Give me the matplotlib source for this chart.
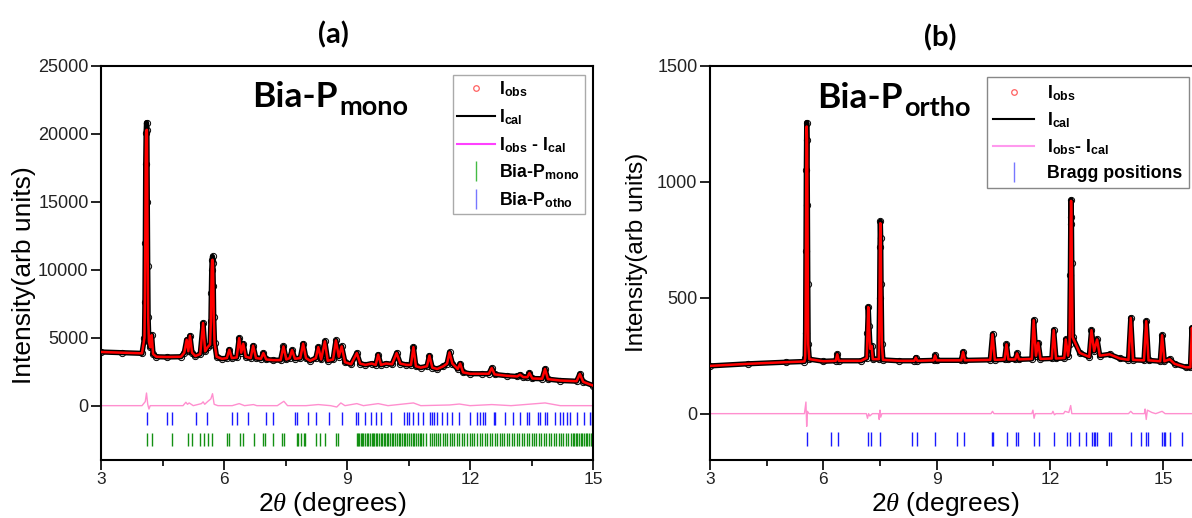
import numpy as np
import matplotlib
matplotlib.use("Agg")
import matplotlib.pyplot as plt
from matplotlib.lines import Line2D
from matplotlib.ticker import MultipleLocator, FixedLocator

plt.rcParams["font.family"] = "Liberation Sans"
plt.rcParams["mathtext.fontset"] = "custom"
plt.rcParams["mathtext.rm"] = "Liberation Sans"
plt.rcParams["mathtext.it"] = "Liberation Serif:italic"
plt.rcParams["mathtext.bf"] = "Liberation Sans:bold"

# ---------------- panel (a) : Bia-P mono ----------------
tt_a = [3.00, 3.50, 4.00, 4.06, 4.07, 4.08, 4.09, 4.10, 4.11, 4.12, 4.13, 4.14, 4.15,
        4.17, 4.20, 4.235, 4.27, 4.35, 4.60, 4.95, 5.03, 5.09, 5.13, 5.17, 5.22, 5.30,
        5.42, 5.49, 5.54, 5.60, 5.66, 5.68, 5.69, 5.70, 5.71, 5.72, 5.73, 5.74, 5.75,
        5.77, 5.82, 5.95, 6.07, 6.13, 6.19, 6.31, 6.37, 6.42, 6.47, 6.53, 6.65, 6.71,
        6.78, 6.90, 6.96, 7.03, 7.20, 7.38, 7.45, 7.52, 7.60, 7.66, 7.73, 7.86, 7.93,
        8.00, 8.10, 8.24, 8.30, 8.37, 8.46, 8.53, 8.66, 8.73, 8.80, 8.87, 8.95, 9.10,
        9.24, 9.32, 9.45, 9.60, 9.70, 9.76, 9.83, 9.95, 10.10, 10.21, 10.30, 10.45,
        10.56, 10.62, 10.68, 10.80, 10.95, 11.01, 11.08, 11.20, 11.35, 11.44, 11.50,
        11.57, 11.70, 11.76, 11.83, 12.00, 12.30, 12.46, 12.53, 12.60, 12.90, 13.15,
        13.22, 13.30, 13.40, 13.45, 13.52, 13.76, 13.83, 13.90, 14.20, 14.60, 14.68,
        14.76, 15.00]
iobs_a = [3950, 3900, 3850, 5000, 7600, 12000, 17800, 20100, 20830, 20300, 15000, 10300, 6500,
          4700, 4300, 5200, 3800, 3600, 3580, 3600, 3900, 4850, 4000, 5150, 3900, 3650,
          3800, 6080, 4000, 4300, 4500, 6200, 8300, 10000, 10700, 10980, 10500, 8800, 6500,
          4600, 3600, 3450, 3500, 4120, 3500, 3550, 4970, 3900, 4560, 3600, 3500, 4410,
          3500, 3450, 3870, 3400, 3350, 3350, 4360, 3400, 3500, 4090, 3450, 3500, 4560,
          3500, 3300, 3500, 4310, 3400, 4730, 3300, 3400, 4800, 3600, 4360, 3200, 3050,
          3870, 3100, 3000, 3100, 3000, 3750, 3000, 3100, 3050, 3870, 3100, 3000,
          3000, 4310, 2900, 2800, 2900, 3680, 2800, 2700, 2900, 3100, 3920,
          3100, 2700, 3100, 2450, 2350, 2350, 2350, 2770, 2300, 2200, 2150,
          2280, 2100, 2100, 2400, 2000, 1980, 2700, 1950, 1850, 1800, 2330,
          1750, 1480]
calc_top_a = {4.11: 20290, 5.72: 10740}

tt_diff_a = [3.0, 4.0, 4.08, 4.11, 4.14, 4.17, 4.20, 4.35, 5.0, 5.07, 5.11, 5.15, 5.25, 5.45,
             5.49, 5.53, 5.60, 5.68, 5.72, 5.76, 5.85, 6.2, 6.37, 6.5, 6.72, 6.8, 7.3, 7.46,
             7.55, 8.0, 8.3, 8.6, 8.75, 8.85, 8.95, 9.24, 9.4, 9.76, 10.0, 10.62, 10.8,
             11.5, 11.74, 12.0, 12.53, 13.0, 13.83, 14.2, 15.0]
diff_a = [0, 0, 300, 930, 100, -250, 0, 0, 0, 250, 100, 200, 0, 150,
          280, 100, 300, 500, 880, 100, 0, 0, 150, 0, 80, 0, 0, 320,
          0, 0, 80, 0, -100, 200, 0, 150, 0, 150, 0, 200, 0,
          50, 120, 0, 80, 0, 200, 0, 0]

bragg_otho_a = [4.13, 4.60, 4.72, 5.32, 5.58, 6.19, 6.31, 6.59, 7.02, 7.20, 7.72, 7.79, 8.04,
                8.24, 8.57, 8.87, 9.21, 9.28, 9.44, 9.58, 9.71, 9.82, 10.07, 10.40, 10.46,
                10.52, 10.62, 10.74, 10.85, 11.03, 11.07, 11.13, 11.19, 11.31, 11.43, 11.55,
                11.74, 12.00, 12.18, 12.24, 12.31, 12.37, 12.59, 12.61, 12.85, 13.06, 13.22,
                13.38, 13.45, 13.67, 13.71, 13.83, 13.87, 14.07, 14.20, 14.28, 14.37, 14.44,
                14.62, 14.78, 14.93, 14.97]
bragg_mono_a = [4.11, 4.24, 4.72, 5.11, 5.21, 5.42, 5.50, 5.62, 5.70, 6.07, 6.13, 6.39, 6.47,
                6.73, 6.94, 7.00, 7.19, 7.41, 7.46, 7.77, 7.81, 7.87, 7.94, 7.98, 8.24, 8.33,
                8.46, 8.73, 8.79, 9.24, 9.27, 9.30, 9.33, 9.36, 9.40, 9.45, 9.48, 9.52, 9.56,
                9.60, 9.63, 9.67, 9.71, 9.74, 9.78, 9.82, 9.86, 9.90, 9.93, 9.97, 10.01, 10.05,
                10.09, 10.13, 10.17, 10.21, 10.26, 10.30, 10.34, 10.38, 10.42, 10.47, 10.51,
                10.56, 10.60, 10.64, 10.69, 10.73, 10.77, 10.81, 10.86, 10.92, 11.02, 11.08,
                11.12, 11.17, 11.22, 11.27, 11.33, 11.40, 11.45, 11.50, 11.56, 11.62, 11.68,
                11.74, 11.80, 11.86, 11.92, 11.99, 12.05, 12.10, 12.16, 12.24, 12.30, 12.36,
                12.42, 12.48, 12.54, 12.60, 12.66, 12.72, 12.78, 12.84, 12.90, 12.96, 13.02,
                13.08, 13.14, 13.20, 13.26, 13.32, 13.38, 13.44, 13.50, 13.56, 13.62, 13.68,
                13.74, 13.80, 13.86, 13.92, 13.98, 14.04, 14.10, 14.16, 14.22, 14.28, 14.34,
                14.40, 14.46, 14.50, 14.54, 14.58, 14.62, 14.66, 14.70, 14.74, 14.78, 14.82,
                14.86, 14.90, 14.94, 14.98]

# ---------------- panel (b) : Bia-P ortho ----------------
tt_b = [3.00, 4.00, 5.00, 5.50, 5.52, 5.53, 5.54, 5.55, 5.56, 5.57, 5.58, 5.59, 5.60, 5.63,
        6.00, 6.33, 6.37, 6.41, 7.00, 7.15, 7.17, 7.19, 7.21, 7.24, 7.28, 7.31, 7.47, 7.49,
        7.50, 7.51, 7.52, 7.53, 7.55, 7.58, 8.00, 8.41, 8.45, 8.49, 8.92, 8.96, 9.00, 9.65,
        9.70, 9.75, 10.42, 10.48, 10.54, 10.80, 10.85, 10.90, 11.08, 11.13, 11.18, 11.52,
        11.57, 11.63, 11.69, 11.75, 12.05, 12.10, 12.16, 12.38, 12.42, 12.48, 12.52, 12.54,
        12.55, 12.56, 12.57, 12.58, 12.60, 12.79, 13.04, 13.10, 13.17, 13.25, 13.32, 13.58,
        13.85, 14.08, 14.14, 14.20, 14.49, 14.55, 14.61, 14.92, 14.97, 15.03, 15.17, 15.30,
        15.60, 15.72, 15.76, 15.80, 16.00]
iobs_b = [206, 215, 222, 225, 240, 350, 700, 1050, 1256, 1180, 900, 560, 300, 235,
          226, 228, 256, 228, 228, 240, 350, 460, 380, 280, 292, 235, 235, 500,
          720, 830, 760, 560, 300, 232, 228, 228, 242, 228, 230, 251, 230, 230,
          266, 230, 232, 342, 232, 234, 299, 234, 234, 260, 234, 236,
          403, 250, 306, 236, 238, 360, 238, 240, 320, 250, 300, 600,
          820, 922, 850, 650, 330, 262, 245, 360, 270, 320, 250, 256,
          238, 232, 413, 232, 230, 399, 230, 226, 338, 226, 235, 215,
          200, 200, 370, 240, 200]
calc_top_b = {5.56: 1239, 7.51: 822, 12.56: 918}

tt_diff_b = [3.0, 5.50, 5.54, 5.56, 5.58, 5.62, 7.14, 7.17, 7.20, 7.23, 7.30, 7.46, 7.48,
             7.50, 7.52, 7.55, 10.44, 10.48, 10.52, 11.52, 11.55, 11.58, 11.61, 12.05, 12.08,
             12.12, 12.16, 12.36, 12.40, 12.50, 12.55, 12.58, 14.08, 14.14, 14.20, 14.50,
             14.52, 14.55, 14.58, 14.70, 14.80, 14.97, 15.05, 16.0]
diff_b = [0, 0, 50, -55, 10, 0, 0, -20, 0, -10, 0, 0, -25,
          15, -15, 0, 0, 10, 0, 0, 15, -20, 0, 0, 10,
          -5, 0, 0, 10, 5, 35, 0, 0, 10, 0, 0,
          20, -25, 15, 5, 0, 10, 0, 0]

bragg_b = [5.57, 6.20, 6.38, 7.19, 7.26, 7.51, 8.34, 8.47, 8.95, 9.55, 9.72, 10.46, 10.495,
           10.87, 11.11, 11.16, 11.58, 11.70, 12.10, 12.44, 12.54, 12.77, 12.96, 13.12, 13.17,
           13.20, 13.25, 13.56, 13.63, 14.15, 14.42, 14.55, 14.60, 14.98, 15.01, 15.05, 15.17,
           15.50]

RED = "#ff0000"
PINK = "#ff8fcf"


def draw_pattern(ax, tt, iobs, calc_top, tt_diff, diff):
    tt = np.array(tt, dtype=float)
    iobs = np.array(iobs, dtype=float)
    ical = iobs.copy()
    for k, v in calc_top.items():
        ical[np.argmin(np.abs(tt - k))] = v
    # dense observed points form a thick black band
    ax.plot(tt, iobs, color="black", lw=3.8, solid_joinstyle="round", zorder=2)
    ax.plot(tt, iobs, ls="none", marker="o", ms=4.5, mfc="none", mec="black", mew=0.7, zorder=3)
    ax.plot(tt, ical, color=RED, lw=1.8, zorder=4)
    ax.plot(tt_diff, diff, color=PINK, lw=1.0, zorder=2)


def style_axes(ax, xlim, ylim, yticks):
    ax.set_xlim(*xlim)
    ax.set_ylim(*ylim)
    ax.xaxis.set_major_locator(FixedLocator([3, 6, 9, 12, 15]))
    ax.xaxis.set_minor_locator(MultipleLocator(1.5))
    ax.yaxis.set_major_locator(FixedLocator(yticks))
    ax.tick_params(axis="both", which="major", direction="out", length=7, width=1.4,
                   colors="#222222")
    ax.tick_params(axis="x", which="minor", direction="out", length=4, width=1.2)
    ax.tick_params(axis="y", labelsize=13, pad=2)
    ax.tick_params(axis="x", labelsize=12.5, pad=2)
    for s in ax.spines.values():
        s.set_linewidth(1.5)


def big_label(ax, x, y, sub):
    t = ax.text(x, y, "Bia-P", transform=ax.transAxes, fontsize=25.5, fontweight="bold",
                family="Lato", va="baseline", ha="left", zorder=6)
    ax.annotate(sub, xy=(1, 0), xycoords=t, xytext=(1.0, -1.5), textcoords="offset points",
                fontsize=19.5, fontweight="bold", family="Lato", va="baseline", ha="left")


fig = plt.figure(figsize=(11.92, 5.18), dpi=100)
ax1 = fig.add_axes([101 / 1192, 58 / 518, 492 / 1192, 394 / 518])
ax2 = fig.add_axes([710 / 1192, 58 / 518, 491 / 1192, 394 / 518])

# panel (a)
draw_pattern(ax1, tt_a, iobs_a, calc_top_a, tt_diff_a, diff_a)
ax1.vlines(bragg_otho_a, -1400, -450, color="#1a1aff", lw=1.0)
ax1.vlines(bragg_mono_a, -3000, -2000, color="#139013", lw=1.0)
style_axes(ax1, (3, 15), (-4000, 25000), [0, 5000, 10000, 15000, 20000, 25000])
ax1.set_ylabel("Intensity(arb units)", fontsize=19)
ax1.yaxis.set_label_coords(-0.132, 0.47)
ax1.set_xlabel(r"2$\theta$ (degrees)", fontsize=19)
ax1.xaxis.set_label_coords(0.47, -0.076)
big_label(ax1, 0.307, 0.896, "mono")

h_a = [Line2D([], [], ls="none", marker="o", ms=4, mfc="none", mec="#ff6060", mew=0.9),
       Line2D([], [], color="black", lw=1.5),
       Line2D([], [], color="#ff40ff", lw=1.5),
       Line2D([], [], ls="none", marker="|", ms=14, mew=1.0, color="#44bb44"),
       Line2D([], [], ls="none", marker="|", ms=14, mew=1.0, color="#7777ff")]
l_a = [r"I$_{\mathbf{obs}}$", r"I$_{\mathbf{cal}}$",
       r"I$_{\mathbf{obs}}$ - I$_{\mathbf{cal}}$",
       r"Bia-P$_{\mathbf{mono}}$", r"Bia-P$_{\mathbf{otho}}$"]
leg = ax1.legend(h_a, l_a, loc="upper left", bbox_to_anchor=(453 / 1192, 1 - 75 / 518),
                 bbox_transform=fig.transFigure, borderaxespad=0, frameon=True,
                 fancybox=False, framealpha=1, edgecolor="#aaaaaa",
                 prop={"family": "Liberation Sans", "weight": "bold", "size": 12.8},
                 handlelength=2.1, handletextpad=0.25, borderpad=0.25, labelspacing=0.45)
leg.get_frame().set_linewidth(1.0)

# panel (b)
draw_pattern(ax2, tt_b, iobs_b, calc_top_b, tt_diff_b, diff_b)
ax2.vlines(bragg_b, -140, -80, color="#1a1aff", lw=1.0)
style_axes(ax2, (3, 16), (-200, 1500), [0, 500, 1000, 1500])
ax2.set_ylabel("Intensity(arb units)", fontsize=17.5)
ax2.yaxis.set_label_coords(-0.126, 0.528)
ax2.set_xlabel(r"2$\theta$ (degrees)", fontsize=19)
ax2.xaxis.set_label_coords(0.479, -0.076)
big_label(ax2, 0.218, 0.893, "ortho")

h_b = [Line2D([], [], ls="none", marker="o", ms=4, mfc="none", mec="#ff6060", mew=0.9),
       Line2D([], [], color="black", lw=1.5),
       Line2D([], [], color="#ff99ee", lw=1.5),
       Line2D([], [], ls="none", marker="|", ms=14, mew=1.0, color="#7777ff")]
l_b = [r"I$_{\mathbf{obs}}$", r"I$_{\mathbf{cal}}$",
       r"I$_{\mathbf{obs}}$- I$_{\mathbf{cal}}$", "Bragg positions"]
leg2 = ax2.legend(h_b, l_b, loc="upper left", bbox_to_anchor=(987 / 1192, 1 - 77 / 518),
                  bbox_transform=fig.transFigure, borderaxespad=0, frameon=True,
                  fancybox=False, framealpha=1, edgecolor="#888888",
                  prop={"family": "Liberation Sans", "weight": "bold", "size": 12.8},
                  handlelength=2.3, handletextpad=0.75, borderpad=0.35, labelspacing=0.42)
leg2.get_frame().set_linewidth(1.0)

fig.text(333 / 1192, 1 - 35 / 518, "(a)", ha="center", va="center", fontsize=21,
         fontweight="bold", family="Lato")
fig.text(940 / 1192, 1 - 38 / 518, "(b)", ha="center", va="center", fontsize=21,
         fontweight="bold", family="Lato")

fig.savefig("out.png", dpi=100)
